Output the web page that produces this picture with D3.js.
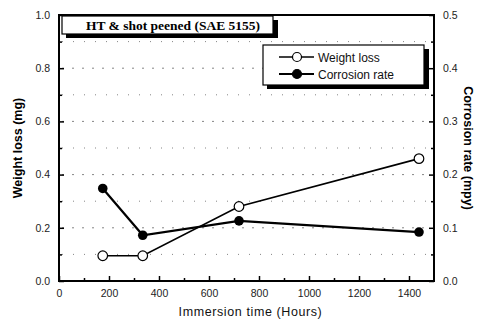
<!DOCTYPE html>
<html>
<head>
<meta charset="utf-8">
<script src="https://cdn.jsdelivr.net/npm/d3@7.9.0/dist/d3.min.js"></script>
<style>
  html, body { margin: 0; padding: 0; background: #fff; }
  svg { display: block; font-family: Arial, "Liberation Sans", sans-serif; }
</style>
</head>
<body>
<div id="chart"></div>
<script>
const hours        = [175, 335, 720, 1440];
const weightLoss   = [0.095, 0.095, 0.28, 0.46];
const corrosion    = [0.174, 0.086, 0.113, 0.092];
const xTicks       = [0, 200, 400, 600, 800, 1000, 1200, 1400];
const yLeftTicks   = [0.0, 0.2, 0.4, 0.6, 0.8, 1.0];
const yRightTicks  = [0.0, 0.1, 0.2, 0.3, 0.4, 0.5];
const gridValues   = [0.1, 0.2, 0.3, 0.4, 0.5, 0.6, 0.7, 0.8, 0.9];
const seriesNames  = ['Weight loss', 'Corrosion rate'];
const titleText    = 'HT & shot peened (SAE 5155)';

const width = 483, height = 322;
const margin = { top: 15, right: 49, bottom: 41, left: 59 };
const inner = {
  left: margin.left, right: width - margin.right,
  top: margin.top, bottom: height - margin.bottom,
};

const svg = d3.select('#chart').append('svg')
  .attr('width', width).attr('height', height);

const x = d3.scaleLinear().domain([0, 1500]).range([inner.left, inner.right]);
const yL = d3.scaleLinear().domain([0, 1]).range([inner.bottom, inner.top]);
const yR = d3.scaleLinear().domain([0, 0.5]).range([inner.bottom, inner.top]);

// dotted gridlines
svg.append('g').attr('class', 'grid')
  .selectAll('line').data(gridValues).join('line')
  .attr('x1', inner.left + 3).attr('x2', inner.right - 3)
  .attr('y1', d => yL(d)).attr('y2', d => yL(d))
  .attr('stroke', '#666').attr('stroke-width', 0.8)
  .attr('stroke-dasharray', (d, i) => i % 2 ? '2,8' : '1,10');

// axes (ticks inward)
const fmt1 = d3.format('.1f');
const xAxis = d3.axisBottom(x).tickValues(xTicks).tickSize(-5).tickPadding(9)
  .tickFormat(d3.format('d'));
const xMinor = d3.axisBottom(x).tickValues(d3.range(100, 1500, 200)).tickSize(-3).tickFormat('');
const yLAxis = d3.axisLeft(yL).tickValues(yLeftTicks).tickSize(-5).tickPadding(9).tickFormat(fmt1);
const yLMinor = d3.axisLeft(yL).tickValues(gridValues.filter((d, i) => i % 2 === 0)).tickSize(-3).tickFormat('');
const yRAxis = d3.axisRight(yR).tickValues(yRightTicks).tickSize(-5).tickPadding(9).tickFormat(fmt1);
const yRMinor = d3.axisRight(yR).tickValues([0.05, 0.15, 0.25, 0.35, 0.45]).tickSize(-3).tickFormat('');

function styleAxis(g) {
  g.select('.domain').remove();
  g.selectAll('line').attr('stroke', '#000').attr('stroke-width', 1.5);
  g.selectAll('text').attr('fill', '#222').attr('font-size', 10.5);
}

svg.append('g').attr('transform', `translate(0,${inner.bottom})`).call(xAxis).call(styleAxis);
svg.append('g').attr('transform', `translate(0,${inner.bottom})`).call(xMinor).call(styleAxis);
svg.append('g').attr('transform', `translate(${inner.left},0)`).call(yLAxis).call(styleAxis);
svg.append('g').attr('transform', `translate(${inner.left},0)`).call(yLMinor).call(styleAxis);
svg.append('g').attr('transform', `translate(${inner.right},0)`).call(yRAxis).call(styleAxis);
svg.append('g').attr('transform', `translate(${inner.right},0)`).call(yRMinor).call(styleAxis);

// frame
svg.append('rect')
  .attr('x', inner.left).attr('y', inner.top)
  .attr('width', inner.right - inner.left).attr('height', inner.bottom - inner.top)
  .attr('fill', 'none').attr('stroke', '#000').attr('stroke-width', 2);

// series
const wlData = hours.map((h, i) => ({ h, v: weightLoss[i] }));
const crData = hours.map((h, i) => ({ h, v: corrosion[i] }));

svg.append('path').datum(wlData)
  .attr('fill', 'none').attr('stroke', '#000').attr('stroke-width', 1.6)
  .attr('d', d3.line().x(d => x(d.h)).y(d => yL(d.v)));
svg.append('path').datum(crData)
  .attr('fill', 'none').attr('stroke', '#000').attr('stroke-width', 2.2)
  .attr('d', d3.line().x(d => x(d.h)).y(d => yR(d.v)));

svg.append('g').selectAll('circle').data(wlData).join('circle')
  .attr('cx', d => x(d.h)).attr('cy', d => yL(d.v)).attr('r', 4.8)
  .attr('fill', '#fff').attr('stroke', '#000').attr('stroke-width', 1.2);
svg.append('g').selectAll('circle').data(crData).join('circle')
  .attr('cx', d => x(d.h)).attr('cy', d => yR(d.v)).attr('r', 4.8)
  .attr('fill', '#000');

// title box with shadow
svg.append('rect').attr('x', 66).attr('y', 20).attr('width', 212).attr('height', 18).attr('fill', '#000');
svg.append('rect').attr('x', 62).attr('y', 16).attr('width', 211).attr('height', 18)
  .attr('fill', '#fff').attr('stroke', '#000').attr('stroke-width', 1.2);
svg.append('text').attr('x', 173).attr('y', 30)
  .attr('text-anchor', 'middle')
  .attr('font-family', '"Liberation Serif", "Times New Roman", serif')
  .attr('font-weight', 'bold').attr('font-size', 13.5)
  .text(titleText);

// legend box with shadow
svg.append('rect').attr('x', 267).attr('y', 49).attr('width', 162).attr('height', 40).attr('fill', '#000');
svg.append('rect').attr('x', 263).attr('y', 45).attr('width', 161).attr('height', 40)
  .attr('fill', '#fff').attr('stroke', '#000').attr('stroke-width', 1.2);
const legend = svg.append('g');
seriesNames.forEach((name, i) => {
  const ly = 57 + i * 17;
  legend.append('line').attr('x1', 279).attr('x2', 314).attr('y1', ly).attr('y2', ly)
    .attr('stroke', '#000').attr('stroke-width', i ? 2 : 1.5);
  legend.append('circle').attr('cx', 297).attr('cy', ly).attr('r', 4.5)
    .attr('fill', i ? '#000' : '#fff').attr('stroke', '#000').attr('stroke-width', 1.2);
  legend.append('text').attr('x', 318).attr('y', ly + 4.5)
    .attr('font-size', 12).attr('fill', '#111').text(name);
});

// axis titles
svg.append('text')
  .attr('transform', `translate(22,${(inner.top + inner.bottom) / 2}) rotate(-90)`)
  .attr('text-anchor', 'middle').attr('font-weight', 'bold').attr('font-size', 12.5)
  .text('Weight loss (mg)');
svg.append('text')
  .attr('transform', `translate(464,${(inner.top + inner.bottom) / 2}) rotate(90)`)
  .attr('text-anchor', 'middle').attr('font-weight', 'bold').attr('font-size', 12.5)
  .text('Corrosion rate (mpy)');
svg.append('text')
  .attr('x', (inner.left + inner.right) / 2 + 4).attr('y', 316)
  .attr('text-anchor', 'middle').attr('font-size', 12.5).attr('fill', '#111')
  .attr('letter-spacing', 0.6)
  .text('Immersion time (Hours)');
</script>
</body>
</html>
